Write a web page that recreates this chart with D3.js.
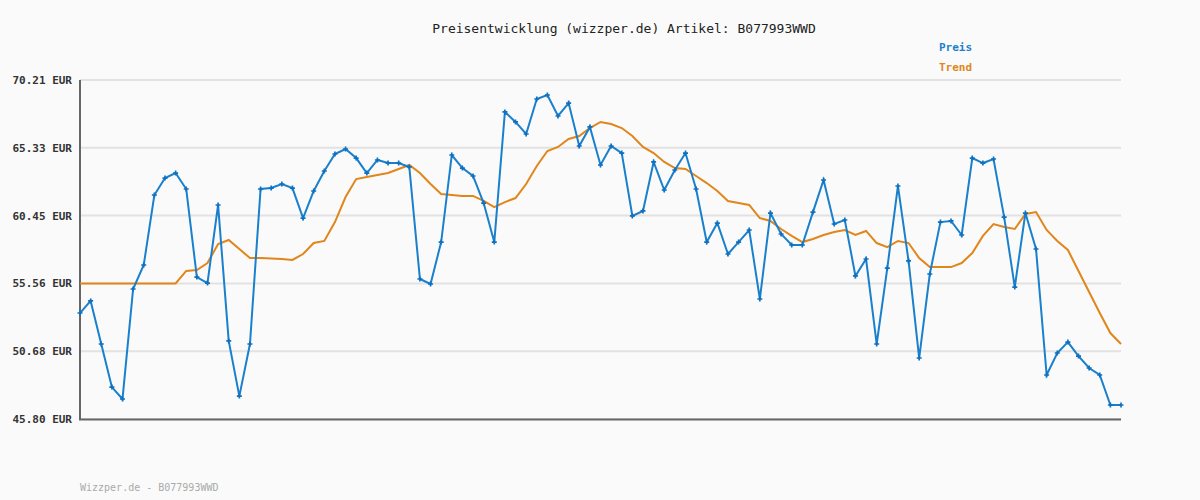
<!DOCTYPE html>
<html><head><meta charset="utf-8">
<script src="https://cdn.jsdelivr.net/npm/d3@7"></script>
<style>body{margin:0;background:#fafafa}</style></head>
<body><svg id="c" width="1200" height="500"></svg>
<script>
const title = "Preisentwicklung (wizzper.de) Artikel: B077993WWD";
const footer = "Wizzper.de - B077993WWD";
const yTicks = [45.80, 50.68, 55.56, 60.45, 65.33, 70.21];
const preis = [53.43,54.30,51.20,48.10,47.24,55.16,56.89,61.93,63.15,63.51,62.36,56.02,55.59,61.21,51.42,47.45,51.20,62.36,62.43,62.72,62.43,60.27,62.22,63.66,64.88,65.24,64.59,63.51,64.45,64.23,64.23,63.95,55.88,55.52,
58.54,64.81,63.87,63.30,61.35,58.54,67.91,67.19,66.32,68.84,69.13,67.62,68.55,65.46,66.83,64.09,65.46,64.95,60.42,60.78,64.31,62.29,63.73,64.95,62.36,58.54,59.91,57.68,58.54,59.41,54.44,60.63,
59.12,58.33,58.33,60.70,63.01,59.84,60.13,56.10,57.32,51.20,56.67,62.58,57.18,50.19,56.24,59.98,60.06,59.05,64.59,64.23,64.52,60.34,55.30,60.63,58.04,48.97,50.55,51.34,50.33,49.47,48.97,46.81,46.81];
const trend = [55.56,55.56,55.56,55.56,55.56,55.56,55.56,55.56,55.56,55.56,56.46,56.53,57.03,58.40,58.69,58.04,57.39,57.39,57.36,57.32,57.25,57.68,58.47,58.62,59.98,61.78,63.08,63.23,63.37,63.51,63.80,64.09,63.51,62.72,
62.00,61.93,61.86,61.86,61.50,61.06,61.42,61.71,62.72,64.02,65.10,65.39,65.96,66.18,66.75,67.19,67.04,66.75,66.18,65.39,64.95,64.31,63.87,63.80,63.30,62.79,62.22,61.50,61.35,61.21,60.27,60.06,
59.48,58.98,58.54,58.76,59.05,59.26,59.41,59.05,59.34,58.47,58.18,58.62,58.47,57.39,56.74,56.74,56.74,57.03,57.75,58.98,59.84,59.62,59.48,60.56,60.70,59.41,58.62,57.97,56.46,54.94,53.43,51.99,51.20];

const svg = d3.select("#c");
const font = "'DejaVu Sans Mono', monospace";
const x = d3.scaleLinear().domain([0, preis.length-1]).range([80, 1121]);
const y = d3.scaleLinear().domain([45.80, 70.21]).range([419, 80]);

svg.append("rect").attr("width",1200).attr("height",500).attr("fill","#fafafa");
svg.selectAll("line.g").data(yTicks).join("line")
  .attr("x1",80).attr("x2",1121).attr("y1",d=>y(d)).attr("y2",d=>y(d))
  .attr("stroke","#e2e2e2").attr("stroke-width",2);
svg.selectAll("text.t").data(yTicks).join("text")
  .attr("x",72).attr("y",d=>y(d)+4).attr("text-anchor","end")
  .attr("font-family",font).attr("font-size",11).attr("font-weight","bold").attr("fill","#333")
  .text(d=>d.toFixed(2)+" EUR");
svg.append("line").attr("x1",80).attr("x2",80).attr("y1",80).attr("y2",420).attr("stroke","#666").attr("stroke-width",2);
svg.append("line").attr("x1",79).attr("x2",1121).attr("y1",419.5).attr("y2",419.5).attr("stroke","#666").attr("stroke-width",2);

const line = d3.line().x((d,i)=>x(i)).y(d=>y(d));
svg.append("path").attr("d",line(trend)).attr("fill","none").attr("stroke","#e0861a").attr("stroke-width",2);
svg.append("path").attr("d",line(preis)).attr("fill","none").attr("stroke","#1a80cc").attr("stroke-width",2);
svg.selectAll("path.m").data(preis).join("path")
  .attr("d",d3.symbol(d3.symbolCross,14)())
  .attr("transform",(d,i)=>`translate(${x(i)},${y(d)})`).attr("fill","#1070c0");

svg.append("text").attr("x",624).attr("y",33).attr("text-anchor","middle")
  .attr("font-family",font).attr("font-size",13).attr("fill","#222").text(title);
svg.append("text").attr("x",939).attr("y",51).attr("font-family",font).attr("font-size",11)
  .attr("font-weight","bold").attr("fill","#1a80cc").text("Preis");
svg.append("text").attr("x",939).attr("y",71).attr("font-family",font).attr("font-size",11)
  .attr("font-weight","bold").attr("fill","#e0861a").text("Trend");
svg.append("text").attr("x",80).attr("y",491).attr("font-family",font).attr("font-size",10)
  .attr("fill","#aaa").text(footer);
</script></body></html>
